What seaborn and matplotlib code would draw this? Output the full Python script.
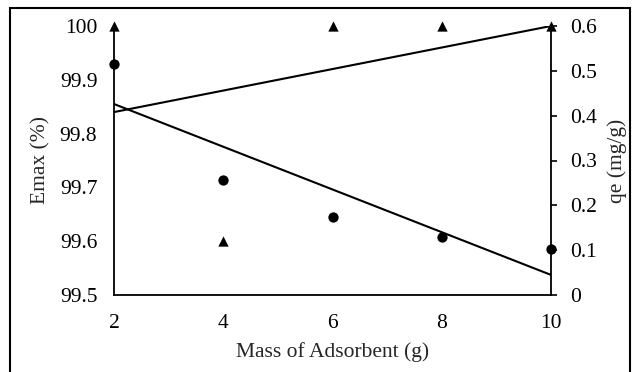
import matplotlib
matplotlib.use("Agg")
import matplotlib.pyplot as plt
from matplotlib.patches import Rectangle
from matplotlib.ticker import FuncFormatter
import numpy as np
import pandas as pd
import seaborn as sns

# Adsorbent dose experiment
mass_g = [2, 4, 6, 8, 10]
emax_pct = [100.0, 99.6, 100.0, 100.0, 100.0]
qe_mg_g = [0.516, 0.256, 0.173, 0.129, 0.103]

x_ticks = [2, 4, 6, 8, 10]
emax_ticks = [99.5, 99.6, 99.7, 99.8, 99.9, 100.0]
qe_ticks = [0, 0.1, 0.2, 0.3, 0.4, 0.5, 0.6]

df = pd.DataFrame({"mass": mass_g, "emax": emax_pct, "qe": qe_mg_g})

FS = 15.5

sns.set_theme(style="white")
plt.rcParams["font.family"] = ["Liberation Serif", "DejaVu Serif"]
plt.rcParams["font.size"] = FS

fig = plt.figure(figsize=(6.33, 3.72), dpi=100)
ax = fig.add_axes([114 / 633, 1 - 295 / 372, (551 - 114) / 633, (295 - 26) / 372])
ax2 = ax.twinx()

# Emax (%) on the left axis: triangles with a linear trend line
sns.regplot(data=df, x="mass", y="emax", ax=ax, scatter=False, ci=None,
            truncate=True, color="black", line_kws={"lw": 1.5})
sns.scatterplot(data=df, x="mass", y="emax", ax=ax, marker="^", s=55,
                color="black", edgecolor="black", linewidth=0, clip_on=False,
                zorder=5)

# qe (mg/g) on the right axis: circles with a linear trend line
sns.regplot(data=df, x="mass", y="qe", ax=ax2, scatter=False, ci=None,
            truncate=True, color="black", line_kws={"lw": 1.5})
sns.scatterplot(data=df, x="mass", y="qe", ax=ax2, marker="o", s=55,
                color="black", edgecolor="black", linewidth=0, clip_on=False,
                zorder=5)

fmt = FuncFormatter(lambda v, _: f"{v:g}")

ax.set_xlim(2, 10)
ax.set_ylim(99.5, 100.0)
ax.set_xticks(x_ticks)
ax.set_yticks(emax_ticks)
ax.yaxis.set_major_formatter(fmt)
ax.set_xlabel("Mass of Adsorbent (g)", fontsize=FS, labelpad=6)
ax.set_ylabel("Emax (%)", fontsize=FS, labelpad=7)
ax.tick_params(axis="x", length=0, pad=14, labelsize=FS, colors="black")
ax.tick_params(axis="y", length=0, pad=12, labelsize=FS, colors="black")

ax2.set_ylim(0, 0.6)
ax2.set_yticks(qe_ticks)
ax2.yaxis.set_major_formatter(fmt)
ax2.set_ylabel("qe (mg/g)", fontsize=FS, labelpad=7)
ax2.tick_params(axis="y", direction="out", length=4, width=1.2, pad=10,
                labelsize=FS, colors="black")

for a in (ax, ax2):
    a.spines["top"].set_visible(False)
    for side in ("left", "right", "bottom"):
        a.spines[side].set_color("black")
        a.spines[side].set_linewidth(1.3)
ax.spines["right"].set_visible(False)
ax2.spines["left"].set_visible(False)
ax2.spines["bottom"].set_visible(False)

# outer frame around the figure
fig.patches.append(Rectangle((10 / 633, -0.05), 620 / 633, 1 - 8 / 372 + 0.05,
                             transform=fig.transFigure, fill=False,
                             edgecolor="black", linewidth=1.5))

fig.savefig("out.png", dpi=100)
